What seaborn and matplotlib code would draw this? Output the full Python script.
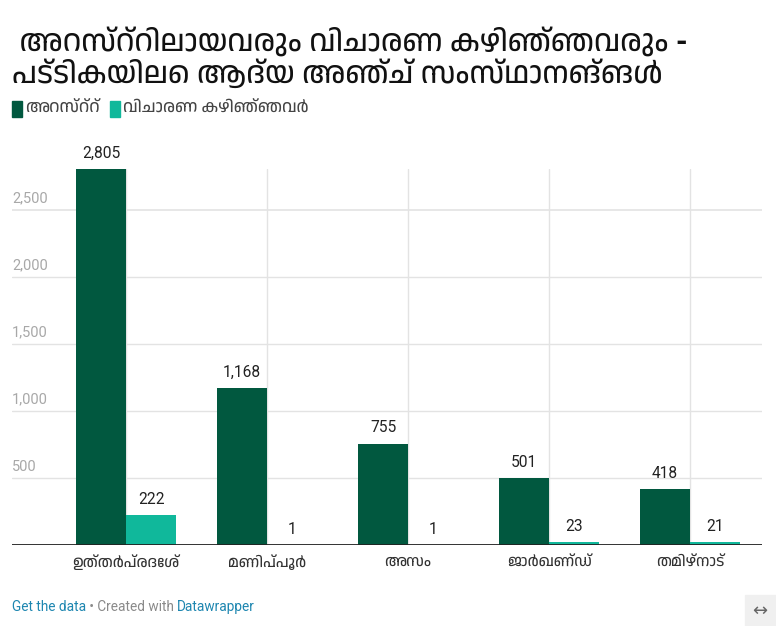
import pandas as pd
import seaborn as sns
import matplotlib.pyplot as plt
from matplotlib import font_manager
from matplotlib.patches import Rectangle

title = " അറസ്റ്റിലായവരും വിചാരണ കഴിഞ്ഞവരും -\nപട്ടികയിലെ ആദ്യ അഞ്ച് സംസ്ഥാനങ്ങൾ"
states = ["ഉത്തർപ്രദേശ്", "മണിപ്പൂർ", "അസം", "ജാർഖണ്ഡ്", "തമിഴ്നാട്"]
series = ["അറസ്റ്റ്", "വിചാരണ കഴിഞ്ഞവർ"]
arrested = [2805, 1168, 755, 501, 418]
tried = [222, 1, 1, 23, 21]
yticks = [500, 1000, 1500, 2000, 2500]
colors = ["#01583f", "#10b89b"]

# any installed font that has Malayalam glyphs
ml_names = ("Meera", "Rachana", "Manjari", "Gayathri", "Chilanka", "Dyuthi",
            "Suruma", "Karumbi", "Keraleeyam", "Uroob", "AnjaliOldLipi")
ml_fonts = sorted({f.name for f in font_manager.fontManager.ttflist
                   if "Malayalam" in f.name or f.name in ml_names})
fam = ["Roboto"] + ml_fonts + ["DejaVu Sans"]

sns.set_style("white")
plt.rcParams["font.family"] = fam

df = pd.DataFrame({
    "state": states * 2,
    "series": [series[0]] * 5 + [series[1]] * 5,
    "value": arrested + tried,
})

fig = plt.figure(figsize=(7.76, 6.26), dpi=100)
ax = fig.add_axes([12 / 776, 1 - 545 / 626, 750 / 776, 376 / 626])

sns.barplot(data=df, x="state", y="value", hue="series", palette=colors,
            width=0.71, gap=0, saturation=1, legend=False, ax=ax, zorder=3,
            linewidth=0)

ax.set_ylim(0, 2805)
ax.set_xlim(-0.81, 4.51)
for v in yticks:
    ax.axhline(v, color="#e3e3e3", lw=1.2 if v == 2500 else 1, zorder=1)
    ax.annotate(f"{v:,}", (0, v), xycoords=("axes fraction", "data"),
                xytext=(0, 3), textcoords="offset points", va="bottom",
                ha="left", fontsize=10.5, color="#a8a8a8")
for i in range(len(states)):
    ax.axvline(i, color="#e3e3e3", lw=1, zorder=1)
ax.axhline(0, color="#222222", lw=1.3, zorder=4)

for c in ax.containers:
    for bar in c:
        h = bar.get_height()
        ax.annotate(f"{int(h):,}", (bar.get_x() + bar.get_width() / 2, h),
                    xytext=(0, 6), textcoords="offset points", ha="center",
                    va="bottom", fontsize=11.2, color="#222222")

ax.set_yticks([])
ax.set_xlabel("")
ax.set_ylabel("")
ax.tick_params(axis="x", length=0, pad=7, labelsize=11, labelcolor="#333333")
sns.despine(ax=ax, left=True, bottom=True)

fig.text(12 / 776, 1 - 58 / 626, title, fontsize=21.5, fontweight="bold",
         color="#111111", va="center", ha="left", linespacing=1.1)

# legend
lx = 12
for name, col in zip(series, colors):
    fig.patches.append(Rectangle((lx / 776, 1 - 117 / 626), 10 / 776, 16 / 626,
                                 transform=fig.transFigure, color=col))
    t = fig.text((lx + 13) / 776, 1 - 108 / 626, name, fontsize=12,
                 color="#444444", va="center", ha="left")
    fig.canvas.draw()
    bb = t.get_window_extent()
    lx = bb.x1 + 10

# footer
ft = fig.text(12 / 776, 1 - 607 / 626, "Get the data", fontsize=9.8,
              color="#1d86b0", va="center")
fig.canvas.draw()
x1 = ft.get_window_extent().x1
ft2 = fig.text(x1 / 776, 1 - 607 / 626, " • Created with ", fontsize=9.8,
               color="#8a8a8a", va="center")
fig.canvas.draw()
x2 = ft2.get_window_extent().x1
fig.text(x2 / 776, 1 - 607 / 626, "Datawrapper", fontsize=9.8,
         color="#1d86b0", va="center")
fig.patches.append(Rectangle((745 / 776, 0), 31 / 776, 31 / 626,
                             transform=fig.transFigure, color="#f0f0f0"))
fig.text(760 / 776, 1 - 611 / 626, "↔", fontsize=13, color="#666666",
         ha="center", va="center", family="DejaVu Sans")

fig.savefig("out.png", dpi=100)
